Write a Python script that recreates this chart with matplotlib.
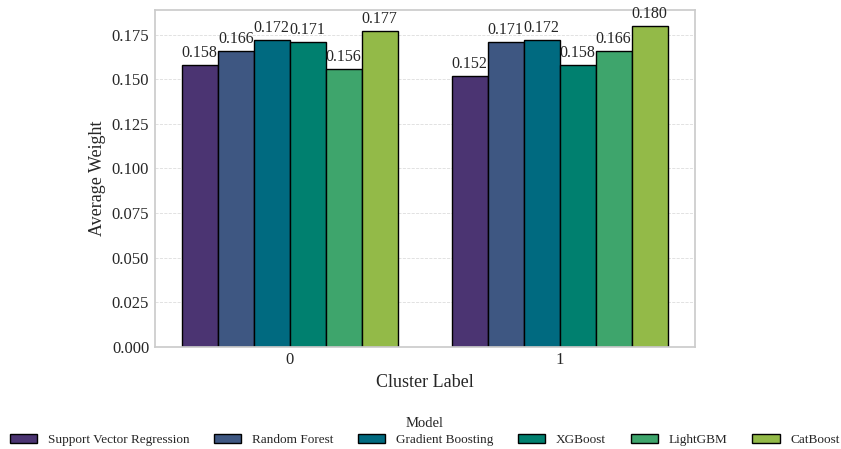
import numpy as np
import matplotlib
matplotlib.use("Agg")
import matplotlib.pyplot as plt
import seaborn as sns

clusters = ["0", "1"]
models = ["Support Vector Regression", "Random Forest", "Gradient Boosting",
          "XGBoost", "LightGBM", "CatBoost"]
weights_c0 = [0.158, 0.166, 0.172, 0.171, 0.156, 0.177]
weights_c1 = [0.152, 0.171, 0.172, 0.158, 0.166, 0.180]
colors = ["#4b3472", "#3e5782", "#006a80", "#00806f", "#3ea56c", "#93ba48"]

sns.set_theme(style="whitegrid")
plt.rcParams["font.family"] = ["Liberation Serif", "DejaVu Serif"]

fig = plt.figure(figsize=(8.41, 4.49), dpi=100)
ax = fig.add_axes([0.184, 0.228, 0.642, 0.75])

values = np.array([weights_c0, weights_c1])
x = np.arange(len(clusters))
width = 0.8 / len(models)
for i, (name, col) in enumerate(zip(models, colors)):
    pos = x - 0.4 + width * (i + 0.5)
    bars = ax.bar(pos, values[:, i], width, color=col, edgecolor="black",
                  linewidth=1.0, label=name)
    ax.bar_label(bars, fmt="%.3f", padding=3, fontsize=11.5)

ax.set_xlim(-0.5, 1.5)
ax.set_ylim(0, 0.189)
ax.set_xticks(x)
ax.set_xticklabels(clusters, fontsize=12)
yt = np.arange(0, 0.176, 0.025)
ax.set_yticks(yt)
ax.set_yticklabels([f"{v:.3f}" for v in yt], fontsize=12)
ax.set_xlabel("Cluster Label", fontsize=13)
ax.set_ylabel("Average Weight", fontsize=13)
ax.grid(axis="x", visible=False)
ax.grid(axis="y", linestyle="--", linewidth=0.6, color="#dddddd")
ax.tick_params(axis="both", length=0, pad=4)
for s in ax.spines.values():
    s.set_color("#cccccc")

ax.legend(title="Model", loc="upper center", bbox_to_anchor=(0.5, -0.2),
          ncol=6, frameon=False, fontsize=9.5, title_fontsize=10.5,
          columnspacing=1.9, handlelength=2.05, handletextpad=0.8,
          borderaxespad=0, borderpad=0.2, labelspacing=0.35)

fig.savefig("out.png", dpi=100)
